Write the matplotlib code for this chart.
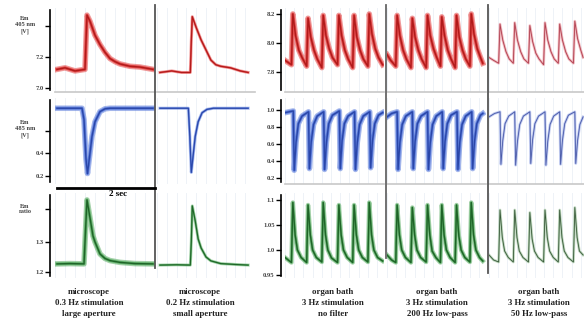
import matplotlib
matplotlib.use("Agg")
import matplotlib.pyplot as plt

W, H = 584, 327

# ---- left block: microscope (time in s) ----
red1_t = [0.04, 0.20, 0.40, 0.60, 0.62, 0.64, 0.70, 0.80, 0.90, 1.00, 1.10, 1.20, 1.30, 1.50, 1.70, 1.96]
red1_v = [7.12, 7.13, 7.11, 7.12, 7.30, 7.47, 7.43, 7.34, 7.28, 7.23, 7.19, 7.17, 7.155, 7.14, 7.135, 7.12]
red2_t = [0.06, 0.30, 0.50, 0.68, 0.70, 0.72, 0.80, 0.90, 1.00, 1.10, 1.20, 1.30, 1.50, 1.70, 1.86]
red2_v = [7.10, 7.11, 7.10, 7.10, 7.30, 7.46, 7.39, 7.31, 7.245, 7.18, 7.15, 7.14, 7.13, 7.11, 7.10]

blue1_t = [0.04, 0.30, 0.54, 0.58, 0.62, 0.65, 0.68, 0.74, 0.80, 0.90, 1.00, 1.10, 1.30, 1.60, 1.96]
blue1_v = [0.80, 0.80, 0.80, 0.70, 0.35, 0.22, 0.33, 0.55, 0.68, 0.77, 0.795, 0.80, 0.80, 0.80, 0.80]
blue2_t = [0.06, 0.40, 0.64, 0.67, 0.70, 0.73, 0.78, 0.84, 0.92, 1.02, 1.15, 1.40, 1.86]
blue2_v = [0.80, 0.80, 0.80, 0.55, 0.23, 0.35, 0.55, 0.68, 0.76, 0.79, 0.80, 0.80, 0.80]

green1_t = [0.04, 0.30, 0.58, 0.60, 0.64, 0.70, 0.76, 0.80, 0.90, 1.00, 1.10, 1.30, 1.60, 1.96]
green1_v = [1.227, 1.228, 1.227, 1.30, 1.44, 1.38, 1.32, 1.30, 1.26, 1.245, 1.238, 1.232, 1.228, 1.227]
green2_t = [0.06, 0.40, 0.68, 0.70, 0.72, 0.78, 0.84, 0.90, 1.00, 1.10, 1.30, 1.60, 1.86]
green2_v = [1.223, 1.224, 1.223, 1.30, 1.42, 1.37, 1.31, 1.28, 1.25, 1.237, 1.228, 1.225, 1.223]

# ---- right block: organ bath, 3 Hz ----
red3_t = [0.00, 0.14, 0.17, 0.23, 0.30, 0.37, 0.47, 0.50, 0.56, 0.63, 0.70, 0.80, 0.83, 0.89, 0.96, 1.03,
          1.14, 1.17, 1.23, 1.30, 1.37, 1.47, 1.50, 1.56, 1.63, 1.70, 1.80, 1.83, 1.89, 1.96, 2.03, 2.12]
red3_v = [7.88, 7.85, 8.20, 8.05, 7.95, 7.90, 7.84, 8.17, 8.04, 7.95, 7.89, 7.83, 8.19, 8.05, 7.96, 7.90,
          7.85, 8.19, 8.05, 7.95, 7.89, 7.83, 8.19, 8.04, 7.95, 7.89, 7.84, 8.20, 8.06, 7.96, 7.90, 7.85]
red4_t = [0.00, 0.08, 0.19, 0.22, 0.28, 0.35, 0.42, 0.52, 0.55, 0.61, 0.68, 0.75, 0.85, 0.88, 0.94, 1.01, 1.08,
          1.16, 1.19, 1.25, 1.32, 1.39, 1.48, 1.51, 1.57, 1.64, 1.71, 1.80, 1.83, 1.89, 1.96, 2.03, 2.08]
red4_v = [7.92, 7.88, 7.84, 8.19, 8.05, 7.95, 7.89, 7.83, 8.17, 8.04, 7.95, 7.89, 7.83, 8.19, 8.05, 7.96, 7.90,
          7.84, 8.18, 8.05, 7.95, 7.89, 7.83, 8.19, 8.04, 7.95, 7.89, 7.84, 8.20, 8.06, 7.96, 7.90, 7.86]
red5_t = [0.00, 0.10, 0.21, 0.24, 0.30, 0.37, 0.44, 0.53, 0.56, 0.62, 0.69, 0.76, 0.86, 0.89, 0.95, 1.02,
          1.09, 1.19, 1.22, 1.28, 1.35, 1.42, 1.51, 1.54, 1.60, 1.67, 1.74, 1.84, 1.87, 1.93, 2.00, 2.05]
red5_v = [7.90, 7.88, 7.86, 8.13, 8.02, 7.94, 7.89, 7.86, 8.14, 8.02, 7.94, 7.89, 7.86, 8.12, 8.01, 7.93,
          7.89, 7.85, 8.14, 8.02, 7.94, 7.89, 7.86, 8.13, 8.02, 7.94, 7.89, 7.86, 8.15, 8.03, 7.95, 7.90]

blue3_t = [0.00, 0.18, 0.20, 0.24, 0.29, 0.37, 0.51, 0.53, 0.57, 0.62, 0.70, 0.84, 0.86, 0.90, 0.95, 1.03,
           1.18, 1.20, 1.24, 1.29, 1.37, 1.51, 1.53, 1.57, 1.62, 1.70, 1.84, 1.86, 1.90, 1.95, 2.03, 2.12]
blue3_v = [0.97, 0.99, 0.29, 0.62, 0.84, 0.93, 0.98, 0.31, 0.63, 0.83, 0.93, 0.98, 0.30, 0.62, 0.84, 0.94,
           0.99, 0.31, 0.64, 0.84, 0.93, 0.98, 0.30, 0.62, 0.83, 0.93, 0.98, 0.32, 0.64, 0.84, 0.94, 0.97]
blue4_t = [0.00, 0.10, 0.22, 0.24, 0.28, 0.33, 0.41, 0.55, 0.57, 0.61, 0.66, 0.74, 0.88, 0.90, 0.94, 0.99, 1.07,
           1.20, 1.22, 1.26, 1.31, 1.39, 1.52, 1.54, 1.58, 1.63, 1.71, 1.84, 1.86, 1.90, 1.95, 2.03, 2.08]
blue4_v = [0.92, 0.96, 0.98, 0.30, 0.62, 0.83, 0.93, 0.98, 0.31, 0.63, 0.84, 0.93, 0.98, 0.30, 0.62, 0.83, 0.93,
           0.98, 0.31, 0.63, 0.84, 0.94, 0.98, 0.30, 0.62, 0.83, 0.93, 0.98, 0.31, 0.63, 0.84, 0.94, 0.96]
blue5_t = [0.00, 0.12, 0.24, 0.26, 0.30, 0.35, 0.43, 0.56, 0.58, 0.62, 0.67, 0.75, 0.89, 0.91, 0.95, 1.00,
           1.08, 1.22, 1.24, 1.28, 1.33, 1.41, 1.54, 1.56, 1.60, 1.65, 1.73, 1.87, 1.89, 1.93, 1.98, 2.05]
blue5_v = [0.92, 0.96, 0.98, 0.36, 0.64, 0.84, 0.93, 0.98, 0.35, 0.63, 0.83, 0.93, 0.98, 0.37, 0.65, 0.84,
           0.93, 0.98, 0.35, 0.63, 0.83, 0.93, 0.98, 0.36, 0.64, 0.84, 0.94, 0.98, 0.37, 0.64, 0.83, 0.92]

green3_t = [0.00, 0.14, 0.17, 0.22, 0.27, 0.35, 0.47, 0.50, 0.55, 0.60, 0.68, 0.80, 0.83, 0.88, 0.93, 1.01,
            1.14, 1.17, 1.22, 1.27, 1.35, 1.47, 1.50, 1.55, 1.60, 1.68, 1.80, 1.83, 1.88, 1.93, 2.01, 2.12]
green3_v = [0.985, 0.975, 1.095, 1.03, 1.00, 0.985, 0.975, 1.09, 1.03, 1.00, 0.985, 0.976, 1.095, 1.03, 1.00, 0.984,
            0.975, 1.09, 1.03, 1.00, 0.985, 0.975, 1.09, 1.03, 1.00, 0.985, 0.976, 1.095, 1.03, 1.00, 0.985, 0.978]
green4_t = [0.00, 0.10, 0.19, 0.22, 0.27, 0.32, 0.40, 0.52, 0.55, 0.60, 0.65, 0.73, 0.85, 0.88, 0.93, 0.98, 1.06,
            1.16, 1.19, 1.24, 1.29, 1.37, 1.48, 1.51, 1.56, 1.61, 1.69, 1.80, 1.83, 1.88, 1.93, 2.01, 2.08]
green4_v = [0.99, 0.98, 0.975, 1.09, 1.03, 1.00, 0.985, 0.975, 1.085, 1.03, 1.00, 0.985, 0.976, 1.09, 1.03, 0.998, 0.985,
            0.975, 1.09, 1.03, 1.00, 0.985, 0.975, 1.09, 1.028, 1.00, 0.985, 0.976, 1.095, 1.03, 1.00, 0.985, 0.978]
green5_t = [0.00, 0.10, 0.21, 0.24, 0.29, 0.34, 0.42, 0.53, 0.56, 0.61, 0.66, 0.74, 0.86, 0.89, 0.94, 0.99,
            1.07, 1.19, 1.22, 1.27, 1.32, 1.40, 1.51, 1.54, 1.59, 1.64, 1.72, 1.84, 1.87, 1.92, 1.97, 2.05]
green5_v = [0.99, 0.98, 0.976, 1.08, 1.025, 0.998, 0.985, 0.976, 1.08, 1.025, 0.998, 0.985, 0.976, 1.075, 1.022, 0.998,
            0.985, 0.976, 1.08, 1.025, 0.998, 0.985, 0.976, 1.08, 1.025, 0.998, 0.985, 0.976, 1.085, 1.025, 0.998, 0.99]

# axis scales
left_ticks = [[7.0, 7.2, 7.4], [0.2, 0.4, 0.6], [1.2, 1.3, 1.41]]
left_ticklabels = [["7.0", "7.2", ""], ["0.2", "0.4", ""], ["1.2", "1.3", ""]]
left_names = ["Em\n405 nm\n[V]", "Em\n485 nm\n[V]", "Em\nratio"]
right_ticks = [[7.8, 8.0, 8.2], [0.2, 0.4, 0.6, 0.8, 1.0], [0.95, 1.0, 1.05, 1.1]]
right_ticklabels = [["7.8", "8.0", "8.2"], ["0.2", "0.4", "0.6", "0.8", "1.0"], ["0.95", "1.0", "1.05", "1.1"]]

captions = ["microscope\n0.3 Hz stimulation\nlarge aperture",
            "microscope\n0.2 Hz stimulation\nsmall aperture",
            "organ bath\n3 Hz stimulation\nno filter",
            "organ bath\n3 Hz stimulation\n200 Hz low-pass",
            "organ bath\n3 Hz stimulation\n50 Hz low-pass"]

# pixel layout
rows_py = [(8, 92), (98, 184), (193, 278)]
left_ylim = [(6.974, 7.516), (0.127, 0.891), (1.18, 1.463)]
right_ylim = [(7.662, 8.241), (0.128, 1.143), (0.944, 1.114)]
cols_px = [(55, 155), (157, 255), (285, 384), (387, 486), (489, 584)]
cols_xlim = [2.0, 1.96, 2.15, 2.15, 2.07]

SERIF = "Liberation Serif"
fig = plt.figure(figsize=(W / 100, H / 100), dpi=100)
fig.patch.set_facecolor("white")


def px_axes(x0, x1, y0, y1):
    return fig.add_axes([x0 / W, 1 - y1 / H, (x1 - x0) / W, (y1 - y0) / H])


def panel(ci, ri, t, v, color, dark, lw_band=4.0, alpha=0.5, lw_core=1.0, bottom_line=True):
    x0, x1 = cols_px[ci]
    y0, y1 = rows_py[ri]
    ax = px_axes(x0, x1, y0, y1)
    ax.set_xlim(0, cols_xlim[ci])
    ax.set_ylim(*(left_ylim[ri] if ci < 2 else right_ylim[ri]))
    ax.patch.set_alpha(0)
    for s in ax.spines.values():
        s.set_visible(False)
    ax.set_xticks([i * 0.2 for i in range(11)])
    ax.set_yticks([])
    ax.tick_params(length=0, labelbottom=False)
    ax.grid(axis="x", color="#eef2f7", lw=0.7)
    if bottom_line:
        ax.spines["bottom"].set_visible(True)
        ax.spines["bottom"].set_color("#c8c8c8")
        ax.spines["bottom"].set_linewidth(1.2)
    # fuzzy band + darker core to look like a noisy recording
    ax.plot(t, v, color=color, lw=lw_band, alpha=alpha, solid_joinstyle="round")
    ax.plot(t, v, color=color, lw=lw_band * 0.55, alpha=0.8, solid_joinstyle="round")
    ax.plot(t, v, color=dark, lw=lw_core)
    return ax


def scale_axis(x, ri, ticks, labels, ylim):
    y0, y1 = rows_py[ri]
    ax = px_axes(x, x + 1, y0 + 2, y1 - 2)
    dy = (ylim[1] - ylim[0]) * 2 / (y1 - y0)
    ax.set_ylim(ylim[0] + dy, ylim[1] - dy)
    ax.patch.set_alpha(0)
    for k in ["top", "right", "bottom"]:
        ax.spines[k].set_visible(False)
    ax.spines["left"].set_linewidth(1.2)
    ax.set_xticks([])
    ax.set_yticks(ticks)
    ax.set_yticklabels(labels, fontsize=4.8, fontfamily=SERIF, fontweight="bold", color="#444444")
    ax.tick_params(axis="y", length=3.5, width=1, pad=1)


RED, DRED = "#e03535", "#b01a1a"
BLUE, DBLUE = "#4a6fd8", "#2a46a8"
GREEN, DGREEN = "#4aa455", "#1f6428"

# left block
panel(0, 0, red1_t, red1_v, RED, DRED)
panel(1, 0, red2_t, red2_v, RED, DRED, lw_band=2.2, alpha=0.45, lw_core=0.8)
panel(0, 1, blue1_t, blue1_v, BLUE, DBLUE, bottom_line=False)
panel(1, 1, blue2_t, blue2_v, BLUE, DBLUE, lw_band=2.2, alpha=0.45, lw_core=0.8, bottom_line=False)
panel(0, 2, green1_t, green1_v, GREEN, DGREEN, bottom_line=False)
panel(1, 2, green2_t, green2_v, GREEN, DGREEN, lw_band=2.2, alpha=0.45, lw_core=0.8, bottom_line=False)

# right block
panel(2, 0, red3_t, red3_v, RED, DRED)
panel(3, 0, red4_t, red4_v, RED, DRED)
panel(4, 0, red5_t, red5_v, "#eaa0a8", "#b04050", lw_band=2.0, alpha=0.6, lw_core=0.6)
panel(2, 1, blue3_t, blue3_v, BLUE, DBLUE)
panel(3, 1, blue4_t, blue4_v, BLUE, DBLUE)
panel(4, 1, blue5_t, blue5_v, "#a8b6ea", "#4a5aa8", lw_band=2.0, alpha=0.6, lw_core=0.6)
panel(2, 2, green3_t, green3_v, GREEN, DGREEN, lw_band=3.2, bottom_line=False)
panel(3, 2, green4_t, green4_v, GREEN, DGREEN, lw_band=3.2, bottom_line=False)
panel(4, 2, green5_t, green5_v, "#a8c8a8", "#3a5a3a", lw_band=2.0, alpha=0.6, lw_core=0.6, bottom_line=False)

# y scales
for ri in range(3):
    scale_axis(50, ri, left_ticks[ri], left_ticklabels[ri], left_ylim[ri])
    scale_axis(281, ri, right_ticks[ri], right_ticklabels[ri], right_ylim[ri])

# row names next to the unlabeled top tick of the left scale
name_py = [25, 129, 209]
for name, py in zip(left_names, name_py):
    fig.text(25 / W, 1 - py / H, name, ha="center", va="center", fontsize=4.6, fontfamily=SERIF,
             fontweight="bold", color="#444444", linespacing=1.2)

# separators between columns
sep = fig.add_axes([0, 0, 1, 1])
sep.set_xlim(0, W)
sep.set_ylim(H, 0)
sep.axis("off")
sep.patch.set_alpha(0)
sep.plot([155, 155], [5, 268], color="#555555", lw=1.3)
sep.plot([385.5, 385.5], [5, 258], color="#666666", lw=1.3)
sep.plot([487.5, 487.5], [5, 273], color="#555555", lw=1.3)

# 2 sec scale bar
sep.plot([57, 155], [188, 188], color="black", lw=2)
sep.text(118, 194, "2 sec", ha="center", va="center", fontsize=6.5, fontfamily=SERIF, fontweight="bold")

# column captions
cap_x = [89, 200, 333, 437, 539]
for x, txt in zip(cap_x, captions):
    sep.text(x, 303, txt, ha="center", va="center", fontsize=6.3, fontfamily=SERIF,
             fontweight="bold", color="#222222", linespacing=1.45)

fig.savefig("out.png", dpi=100)
